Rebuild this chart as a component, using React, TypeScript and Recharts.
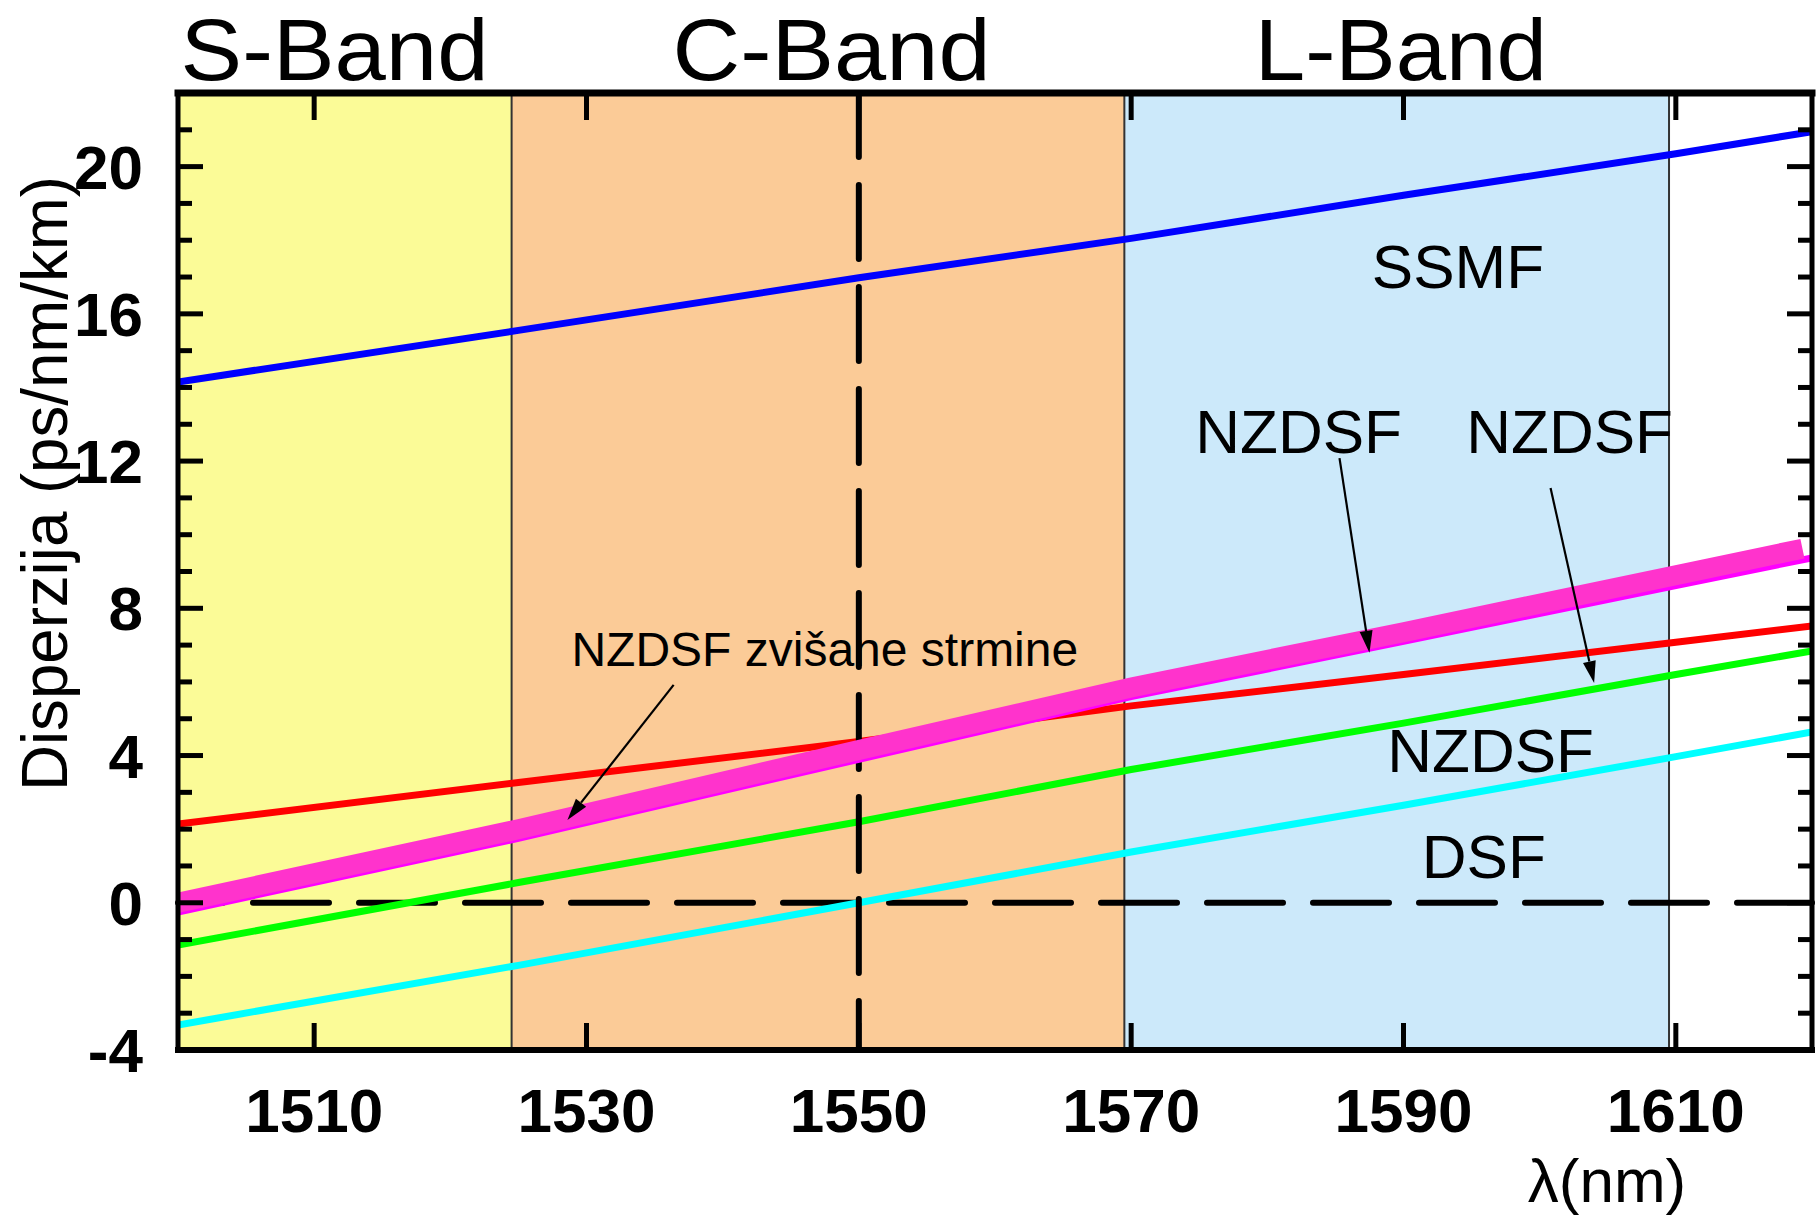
import React from 'react';
import {
  LineChart,
  Line,
  XAxis,
  YAxis,
  ReferenceArea,
  ReferenceLine,
  ReferenceDot,
} from 'recharts';

// Wavelength grid (nm) and chromatic dispersion (ps/nm/km) of each fibre type
const wavelengthNm = [1500, 1525, 1550, 1570, 1590, 1610, 1620];
const ssmfDisp = [14.15, 15.55, 16.98, 18.05, 19.22, 20.35, 20.95];
const nzdsfLowSlope = [2.14, 3.27, 4.38, 5.35, 6.2, 7.08, 7.52];
const nzdsfMidSlope = [-1.15, 0.55, 2.2, 3.62, 4.88, 6.2, 6.84];
const dsfDisp = [-3.32, -1.7, 0.0, 1.38, 2.65, 3.97, 4.64];
const nzdsfSteepEdge = [-0.25, 1.75, 3.9, 5.6, 7.1, 8.62, 9.37];

// The wide steep-slope NZDSF trace stops just short of the frame
const steepWavelengthNm = [1500, 1525, 1550, 1570, 1590, 1610, 1619.3];
const nzdsfSteep = [0.0, 2.0, 4.15, 5.85, 7.35, 8.9, 9.62];

// Telecom bands
const bandNames = ['S-Band', 'C-Band', 'L-Band'];
const bandStartNm = [1500, 1524.5, 1569.5];
const bandEndNm = [1524.5, 1569.5, 1609.5];
const bandLabelNm = [1511.5, 1548, 1589.8];
const bandLabelWidth = [308, 318, 292];
const bandColors = ['#fbfb97', '#fbcb97', '#cce9fa'];

// Axis ticks
const xTicks = [1510, 1530, 1550, 1570, 1590, 1610];
const yTicks = [-4, -3, -2, -1, 0, 1, 2, 3, 4, 5, 6, 7, 8, 9, 10, 11, 12, 13, 14, 15, 16, 17, 18, 19, 20, 21, 22];
const yLabelTicks = [-4, 0, 4, 8, 12, 16, 20];

// Curve annotations: text, anchor wavelength, baseline dispersion, font size
const noteTexts = ['SSMF', 'NZDSF', 'NZDSF', 'NZDSF', 'DSF', 'NZDSF zvišane strmine'];
const noteNm = [1594.0, 1582.3, 1602.2, 1596.4, 1595.9, 1547.5];
const noteDisp = [16.7, 12.22, 12.22, 3.555, 0.675, 6.43];
const noteSize = [62, 62, 62, 62, 62, 48];

// Pointer arrows: start (nm, disp) -> tip (nm, disp)
const arrowFromNm = [1536.4, 1585.3, 1600.8];
const arrowFromDisp = [5.92, 12.08, 11.27];
const arrowToNm = [1528.6, 1587.5, 1604.0];
const arrowToDisp = [2.25, 6.79, 5.97];

const FONT = '"Liberation Sans", Arial, Helvetica, sans-serif';

const data = wavelengthNm.map((w, i) => ({
  w,
  ssmf: ssmfDisp[i],
  low: nzdsfLowSlope[i],
  mid: nzdsfMidSlope[i],
  dsf: dsfDisp[i],
  edge: nzdsfSteepEdge[i],
}));
const steepData = steepWavelengthNm.map((w, i) => ({ w, steep: nzdsfSteep[i] }));

const LeftTick = (p: any) => {
  const v = p.payload.value;
  const major = v % 4 === 0;
  const len = major ? 25 : 14;
  return (
    <g>
      <line x1={p.x} y1={p.y} x2={p.x + len} y2={p.y} stroke="#000" strokeWidth={5} />
      {yLabelTicks.includes(v) && (
        <text x={p.x - 35} y={p.y + 22} textAnchor="end" fontFamily={FONT} fontWeight="bold" fontSize={62} fill="#000">
          {v}
        </text>
      )}
    </g>
  );
};

const RightTick = (p: any) => {
  const v = p.payload.value;
  const len = v % 4 === 0 ? 25 : 14;
  return <line x1={p.x} y1={p.y} x2={p.x - len} y2={p.y} stroke="#000" strokeWidth={5} />;
};

const BottomTick = (p: any) => (
  <g>
    <line x1={p.x} y1={p.y} x2={p.x} y2={p.y - 27} stroke="#000" strokeWidth={5} />
    <text x={p.x} y={p.y + 82} textAnchor="middle" fontFamily={FONT} fontWeight="bold" fontSize={62} fill="#000">
      {p.payload.value}
    </text>
  </g>
);

const TopTick = (p: any) => (
  <line x1={p.x} y1={p.y} x2={p.x} y2={p.y + 27} stroke="#000" strokeWidth={5} />
);

const ArrowShape = (p: any) => {
  const { x1, y1, x2, y2 } = p;
  const a = Math.atan2(y2 - y1, x2 - x1);
  const L = 22;
  const W = 6.5;
  const bx = x2 - L * Math.cos(a);
  const by = y2 - L * Math.sin(a);
  const pts = `${x2},${y2} ${bx + W * Math.sin(a)},${by - W * Math.cos(a)} ${bx - W * Math.sin(a)},${by + W * Math.cos(a)}`;
  return (
    <g>
      <line x1={x1} y1={y1} x2={bx} y2={by} stroke="#000" strokeWidth={2.2} />
      <polygon points={pts} fill="#000" />
    </g>
  );
};

const YTitle = (p: any) => {
  const vb = p.viewBox;
  const x = vb.x - 110;
  const y = vb.y + vb.height / 2 - 88;
  return (
    <text
      x={x}
      y={y}
      transform={`rotate(-90, ${x}, ${y})`}
      textAnchor="middle"
      fontFamily={FONT}
      fontSize={64}
      fill="#000"
      textLength={615}
      lengthAdjust="spacingAndGlyphs"
    >
      Disperzija (ps/nm/km)
    </text>
  );
};

const XTitle = (p: any) => {
  const vb = p.viewBox;
  return (
    <text x={vb.x + vb.width - 205} y={vb.y + 152} textAnchor="middle" fontFamily={FONT} fontSize={62} fill="#000">
      λ(nm)
    </text>
  );
};

const ids = { xAxisId: 'b', yAxisId: 'l' };
const thin = { dot: false, activeDot: false, isAnimationActive: false, strokeWidth: 7 };

export default function App() {
  return (
    <div style={{ position: 'absolute', left: 0, top: 0, width: 1816, height: 1215, background: '#fff' }}>
      <LineChart width={1816} height={1215} data={data} margin={{ top: 92, right: 3, bottom: 164, left: 177 }}>
        <XAxis
          xAxisId="b"
          type="number"
          dataKey="w"
          domain={[1500, 1620]}
          ticks={xTicks}
          interval={0}
          allowDataOverflow
          height={1}
          tickSize={0}
          tickMargin={0}
          tickLine={false}
          tick={<BottomTick />}
          axisLine={{ stroke: '#000', strokeWidth: 6, strokeLinecap: 'square' }}
          label={<XTitle />}
        />
        <XAxis
          xAxisId="t"
          orientation="top"
          type="number"
          dataKey="w"
          domain={[1500, 1620]}
          ticks={xTicks}
          interval={0}
          allowDataOverflow
          height={1}
          tickSize={0}
          tickMargin={0}
          tickLine={false}
          tick={<TopTick />}
          axisLine={{ stroke: '#000', strokeWidth: 7, strokeLinecap: 'square' }}
        />
        <YAxis
          yAxisId="l"
          type="number"
          domain={[-4, 22]}
          ticks={yTicks}
          interval={0}
          allowDataOverflow
          width={1}
          tickSize={0}
          tickMargin={0}
          tickLine={false}
          tick={<LeftTick />}
          axisLine={{ stroke: '#000', strokeWidth: 5, strokeLinecap: 'square' }}
          label={<YTitle />}
        />
        <YAxis
          yAxisId="r"
          orientation="right"
          type="number"
          domain={[-4, 22]}
          ticks={yTicks}
          interval={0}
          allowDataOverflow
          width={1}
          tickSize={0}
          tickMargin={0}
          tickLine={false}
          tick={<RightTick />}
          axisLine={{ stroke: '#000', strokeWidth: 5, strokeLinecap: 'square' }}
        />

        {bandNames.map((name, i) => (
          <ReferenceArea
            key={name}
            {...ids}
            x1={bandStartNm[i]}
            x2={bandEndNm[i]}
            y1={-4}
            y2={22}
            fill={bandColors[i]}
            fillOpacity={1}
            stroke="none"
          />
        ))}
        {bandEndNm.map((x) => (
          <ReferenceLine key={`edge-${x}`} {...ids} x={x} stroke="#333" strokeWidth={2} />
        ))}

        <ReferenceLine {...ids} y={0} stroke="#000" strokeWidth={6} strokeDasharray="76 30" strokeDashoffset={31} strokeLinecap="round" />

        <Line {...ids} {...thin} dataKey="ssmf" stroke="#0000ff" />
        <Line {...ids} {...thin} dataKey="low" stroke="#ff0000" />
        <Line {...ids} {...thin} dataKey="mid" stroke="#00ff00" />
        <Line {...ids} {...thin} dataKey="dsf" stroke="#00ffff" />

        <ReferenceLine {...ids} x={1550} stroke="#000" strokeWidth={6} strokeDasharray="74 28" strokeDashoffset={25} strokeLinecap="round" />

        <Line {...ids} {...thin} dataKey="edge" stroke="#ff00ff" />
        <Line
          {...ids}
          data={steepData}
          dataKey="steep"
          stroke="#ff33cc"
          strokeWidth={20}
          dot={false}
          activeDot={false}
          isAnimationActive={false}
        />

        {bandNames.map((name, i) => (
          <ReferenceDot
            key={`lbl-${name}`}
            {...ids}
            x={bandLabelNm[i]}
            y={22.35}
            ifOverflow="visible"
            shape={(p: any) => (
              <text
                x={p.cx}
                y={p.cy}
                textAnchor="middle"
                fontFamily={FONT}
                fontSize={88}
                fill="#000"
                textLength={bandLabelWidth[i]}
                lengthAdjust="spacingAndGlyphs"
              >
                {name}
              </text>
            )}
          />
        ))}

        {noteTexts.map((t, i) => (
          <ReferenceDot
            key={`note-${i}`}
            {...ids}
            x={noteNm[i]}
            y={noteDisp[i]}
            ifOverflow="visible"
            shape={(p: any) => (
              <text x={p.cx} y={p.cy} textAnchor="middle" fontFamily={FONT} fontSize={noteSize[i]} fill="#000">
                {t}
              </text>
            )}
          />
        ))}

        {arrowFromNm.map((x, i) => (
          <ReferenceLine
            key={`arrow-${i}`}
            {...ids}
            segment={[
              { x, y: arrowFromDisp[i] },
              { x: arrowToNm[i], y: arrowToDisp[i] },
            ]}
            ifOverflow="visible"
            shape={ArrowShape}
          />
        ))}
      </LineChart>
    </div>
  );
}
